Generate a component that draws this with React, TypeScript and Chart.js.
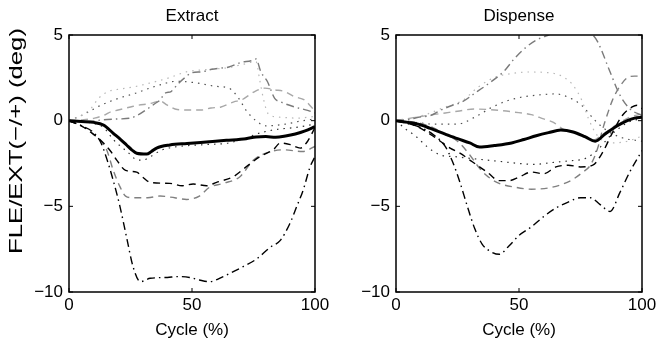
import React, { useEffect, useRef } from "react";
import { Chart, registerables } from "chart.js";

Chart.register(...registerables);

// ---------- text ----------
const panelTitles = ["Extract", "Dispense"];
const yAxisTitle = "FLE/EXT(\u2212/+) (deg)";
const xAxisTitle = "Cycle (%)";
const xTicks = [0, 50, 100];
const yTicks = [5, 0, -5, -10];

// ---------- Extract panel series: [cycle %, deg] ----------
const extractMean = [[0,0],[5,-0.05],[10,-0.1],[14,-0.25],[18,-0.74],[21,-1.1],[23.4,-1.42],[25.5,-1.7],[27.5,-1.9],[31.6,-1.95],[33.5,-1.8],[35.6,-1.6],[41,-1.42],[48,-1.33],[57,-1.23],[64,-1.15],[72,-1.05],[76,-0.95],[80,-0.93],[84,-0.97],[88,-0.9],[92,-0.78],[96,-0.6],[100,-0.35]];
const extractA = [[0,0],[5,-0.3],[10,-0.7],[13,-1.3],[15.3,-2.2],[18,-3.5],[20.7,-5.0],[23.4,-6.8],[26,-8.5],[29,-9.4],[33,-9.2],[40,-9.15],[44,-9.1],[49,-9.15],[53,-9.3],[57,-9.4],[62.7,-9.1],[67,-8.8],[71,-8.5],[76,-8.1],[81.7,-7.4],[85.8,-7.0],[89.8,-6.0],[92.6,-5.0],[95.2,-4.05],[98,-2.7],[100,-2.1]];
const extractB = [[0,0],[5,-0.3],[10,-0.8],[14,-1.3],[17,-1.8],[19.4,-2.3],[23,-2.9],[27.5,-3.0],[30,-3.3],[33,-3.6],[41,-3.66],[46,-3.8],[50.5,-3.7],[56,-3.8],[60,-3.6],[66.8,-3.27],[72,-2.7],[77.6,-2.1],[83,-1.7],[86,-1.3],[90,-1.4],[94,-1.6],[97,-1.2],[100,-0.4]];
const extractC = [[0,0],[5,-0.3],[10,-0.8],[13,-1.2],[15.3,-1.7],[18,-2.9],[20.7,-3.85],[23,-4.4],[26,-4.5],[32,-4.5],[37,-4.4],[43,-4.5],[47.8,-4.6],[53,-4.4],[57,-3.9],[62.7,-3.66],[69.5,-3.27],[75,-2.3],[80,-1.9],[87,-1.7],[95,-1.8],[100,-1.5]];
const extractD = [[0,0],[7,-0.05],[14,0.05],[20,0.1],[25,0.15],[28,0.33],[32,0.7],[35,1.0],[37,1.2],[39,1.6],[41.5,1.7],[44,2.1],[47,2.5],[50,2.8],[54,2.85],[58,3.0],[62,3.07],[65,3.13],[70,3.4],[74,3.5],[76,3.6],[78,2.85],[80.7,2.27],[83.6,1.3],[86,1.1],[91.7,0.8],[97,0.6],[100,0.45]];
const extractE = [[0,0],[6,0.05],[10.4,0.15],[14.5,0.33],[17,0.52],[20,0.62],[25,0.8],[28,0.9],[33,1.0],[37,1.15],[40,0.9],[44,0.65],[49.6,0.62],[53.7,0.62],[57.7,0.74],[61.8,0.8],[67,1.1],[70,1.2],[75.5,1.7],[79.6,1.9],[83.6,1.8],[87.7,1.7],[91.7,1.4],[95.8,1.2],[100,0.55]];
const extractF = [[0,0],[5,0.3],[9,0.72],[12,1.3],[15.9,1.7],[21,1.85],[26.7,1.98],[33,2.2],[40,2.47],[48,2.86],[53,2.95],[58,3.0],[65,3.1],[71,3.3],[76,3.45],[77.5,2.4],[79,1.3],[81,0.4],[86,0.2],[93,0.15],[100,0.25]];
const extractG = [[0,0],[5,0.3],[9,0.6],[13,0.9],[20,1.3],[27,1.6],[35,2.0],[44,2.3],[52,2.2],[60,2.0],[65,1.9],[69,1.3],[72,0.6],[76,0.0],[80,-0.3],[88,-0.2],[95,0.0],[100,0.1]];
const extractH = [[0,0],[8,-0.1],[14,-0.4],[18,-1.1],[21,-1.5],[23.6,-1.8],[28,-2.3],[30,-2.3],[33,-2.1],[38,-1.7],[45,-1.5],[55,-1.4],[65,-1.3],[72,-1.0],[78,-0.7],[85,-0.5],[92,-0.4],[100,-0.2]];

// ---------- Dispense panel series: [cycle %, deg] ----------
const dispenseMean = [[0,0],[5,-0.1],[9,-0.2],[14,-0.45],[20,-0.78],[25,-1.05],[30,-1.3],[34,-1.54],[40,-1.45],[47,-1.3],[52,-1.1],[57,-0.88],[62,-0.7],[67,-0.55],[72,-0.66],[77,-0.95],[81,-1.2],[85,-0.78],[90,-0.3],[94,0.0],[97,0.15],[100,0.2]];
const dispenseA = [[0,0],[10,-0.4],[15,-0.8],[20,-1.5],[23,-2.4],[26,-3.6],[29,-5.0],[32,-6.3],[35,-7.2],[38,-7.6],[42,-7.8],[46,-7.3],[50,-6.7],[55,-6.2],[60,-5.6],[65,-5.1],[70,-4.75],[75,-4.5],[79,-4.5],[83,-4.9],[87,-5.3],[91,-4.2],[95,-3.0],[100,-1.75]];
const dispenseB = [[0,0],[8,-0.3],[14,-0.8],[18,-1.2],[22,-1.6],[26,-1.9],[31,-2.4],[37,-3.0],[42,-3.5],[46,-3.5],[50,-3.3],[55,-3.0],[60,-3.1],[65,-2.7],[70,-2.6],[75,-2.7],[80,-2.6],[84,-1.85],[88,-0.7],[92,0.3],[96,0.8],[98,0.9],[100,0.7]];
const dispenseC = [[0,0],[8,-0.1],[15,-0.4],[20,-0.8],[25,-1.2],[30,-2.0],[33,-2.6],[36,-3.1],[41,-3.6],[49,-3.9],[55,-4.0],[63,-3.9],[71,-3.5],[76,-3.0],[79,-2.6],[82,-1.6],[84,-0.5],[86,0.4],[88,1.2],[91,2.0],[94,2.5],[97,2.6],[100,2.6]];
const dispenseD = [[0,0],[5,0.05],[9,0.2],[14,0.3],[18,0.6],[23,0.9],[27,1.1],[32,1.6],[37,2.1],[44,2.9],[48,3.6],[53,4.3],[57,4.7],[62,5.0],[68,5.3],[74,5.3],[78,5.2],[80,5.0],[82,4.6],[87,2.85],[91,1.5],[95,0.7],[100,0.3]];
const dispenseE = [[0,0],[8,0.2],[15,0.35],[20,0.45],[25,0.55],[32,0.68],[42,0.6],[48,0.5],[55,0.35],[60,0.1],[64,-0.1],[68,-0.5],[72,-0.65],[77,-0.9],[80,-1.15],[84,-0.8],[90,-0.2],[95,0.2],[100,0.4]];
const dispenseF = [[0,0],[5,0.1],[13,0.4],[20,0.8],[27,1.17],[33.5,1.97],[40.4,2.54],[47,2.75],[54,2.84],[60,2.82],[64.8,2.74],[68,2.55],[71.5,2.15],[75.6,1.17],[78,0.2],[82,-0.9],[88,-1.3],[94,-1.2],[100,-0.9]];
const dispenseG = [[0,0],[8,-0.1],[15,-0.2],[25,-0.2],[32,0.2],[39,0.78],[45,1.15],[51,1.37],[58,1.5],[64.8,1.56],[71.5,1.27],[75.6,0.88],[81,0.0],[86,-0.6],[92,-1.0],[100,-1.2]];
const dispenseH = [[0,0],[4,-0.5],[8,-0.9],[12.5,-1.5],[18,-2.0],[24,-2.1],[30,-2.2],[37,-2.3],[43.6,-2.4],[50,-2.5],[56,-2.55],[63,-2.45],[70,-2.35],[77,-2.2],[82,-1.7],[87,-0.9],[92,-0.3],[96,0.0],[100,0.1]];

// ---------- line styles (kept apart from the data) ----------
const styleMean = { color: "#000000", width: 3, dash: [] as number[] };
const styleA = { color: "#000000", width: 1.4, dash: [8, 4, 1.5, 4] };
const styleB = { color: "#000000", width: 1.4, dash: [7, 5] };
const styleC = { color: "#808080", width: 1.4, dash: [7, 5] };
const styleD = { color: "#7a7a7a", width: 1.4, dash: [8, 4, 1.5, 4] };
const styleE = { color: "#a8a8a8", width: 1.4, dash: [7, 5] };
const styleF = { color: "#b8b8b8", width: 1.2, dash: [1.5, 5] };
const styleG = { color: "#505050", width: 1.2, dash: [1.5, 5] };
const styleH = { color: "#303030", width: 1.2, dash: [1.5, 5] };

const FONT = '"Liberation Sans", Arial, Helvetica, sans-serif';
const FS = 17;

function makeDatasets(list: [number[][], any][]) {
  return list.map(([pts, st]) => ({
    data: pts.map(([x, y]) => ({ x, y })),
    borderColor: st.color,
    borderWidth: st.width,
    borderDash: st.dash,
    pointRadius: 0,
    fill: false,
    cubicInterpolationMode: "monotone" as const,
    clip: 0,
  }));
}

const framePlugin = {
  id: "frame",
  afterDatasetsDraw(chart: any, _args: any, opts: any) {
    const { ctx, chartArea: a, scales } = chart;
    ctx.save();
    ctx.strokeStyle = "#000";
    ctx.lineWidth = 1.5;
    ctx.strokeRect(a.left, a.top, a.right - a.left, a.bottom - a.top);
    ctx.lineWidth = 1;
    const L = 4;
    const seg = (x1: number, y1: number, x2: number, y2: number) => {
      ctx.beginPath();
      ctx.moveTo(x1, y1);
      ctx.lineTo(x2, y2);
      ctx.stroke();
    };
    xTicks.forEach((v) => {
      const px = scales.x.getPixelForValue(v);
      seg(px, a.bottom, px, a.bottom - L);
      seg(px, a.top, px, a.top + L);
    });
    yTicks.forEach((v) => {
      const py = scales.y.getPixelForValue(v);
      seg(a.left, py, a.left + L, py);
      seg(a.right, py, a.right - L, py);
    });
    ctx.fillStyle = "#000";
    ctx.font = `${FS}px ${FONT}`;
    ctx.textAlign = "center";
    ctx.textBaseline = "middle";
    ctx.fillText(opts.text, (a.left + a.right) / 2, 16);
    if (opts.yTitle) {
      // vertical axis label, slightly stretched along its length like the reference
      ctx.save();
      ctx.translate(17, 141);
      ctx.rotate(-Math.PI / 2);
      ctx.font = `19px ${FONT}`;
      const w = ctx.measureText(opts.yTitle).width;
      const sx = 226 / w;
      ctx.scale(sx, 1);
      ctx.fillText(opts.yTitle, 0, 0);
      ctx.restore();
    }
    ctx.restore();
  },
};

function Panel(props: {
  left: number;
  width: number;
  yw: number;
  right: number;
  title: string;
  yTitle: string | null;
  series: [number[][], any][];
}) {
  const ref = useRef<HTMLCanvasElement>(null);
  useEffect(() => {
    if (!ref.current) return;
    const chart = new Chart(ref.current, {
      type: "line",
      data: { datasets: makeDatasets(props.series) as any },
      options: {
        responsive: false,
        animation: false,
        devicePixelRatio: 1,
        layout: { padding: { top: 35, right: props.right, bottom: 0, left: 0 } },
        plugins: {
          legend: { display: false },
          tooltip: { enabled: false },
          title: { display: false },
          frame: { text: props.title, yTitle: props.yTitle },
        } as any,
        scales: {
          x: {
            type: "linear",
            min: 0,
            max: 100,
            grid: { display: false, drawTicks: false },
            border: { display: false },
            ticks: {
              stepSize: 50,
              color: "#000",
              padding: 3,
              font: { family: FONT, size: FS },
              maxRotation: 0,
            },
            title: {
              display: true,
              text: xAxisTitle,
              color: "#000",
              font: { family: FONT, size: FS },
              padding: { top: 0, bottom: 10 },
            },
            afterFit: (s: any) => {
              s.height = 59;
            },
          },
          y: {
            type: "linear",
            min: -10,
            max: 5,
            grid: { display: false, drawTicks: false },
            border: { display: false },
            ticks: {
              stepSize: 5,
              color: "#000",
              padding: 6,
              font: { family: FONT, size: FS },
              callback: (v: any) => (Number(v) < 0 ? "\u2212" + Math.abs(Number(v)) : String(v)),
            },
            title: { display: false },
            afterFit: (s: any) => {
              s.width = props.yw;
            },
          },
        },
      },
      plugins: [framePlugin as any],
    });
    return () => chart.destroy();
  }, []);
  return (
    <canvas
      ref={ref}
      width={props.width}
      height={351}
      style={{ position: "absolute", left: props.left, top: 0, width: props.width, height: 351, display: "block" }}
    />
  );
}

export default function App() {
  const extractSeries: [number[][], any][] = [
    [extractMean, styleMean],
    [extractA, styleA],
    [extractB, styleB],
    [extractC, styleC],
    [extractD, styleD],
    [extractE, styleE],
    [extractF, styleF],
    [extractG, styleG],
    [extractH, styleH],
  ];
  const dispenseSeries: [number[][], any][] = [
    [dispenseMean, styleMean],
    [dispenseA, styleA],
    [dispenseB, styleB],
    [dispenseC, styleC],
    [dispenseD, styleD],
    [dispenseE, styleE],
    [dispenseF, styleF],
    [dispenseG, styleG],
    [dispenseH, styleH],
  ];
  return (
    <div style={{ position: "absolute", left: 0, top: 0, width: 665, height: 351, background: "#fff", overflow: "hidden" }}>
      <Panel left={0} width={335} yw={69} right={20} title={panelTitles[0]} yTitle={yAxisTitle} series={extractSeries} />
      <Panel left={335} width={330} yw={61} right={23} title={panelTitles[1]} yTitle={null} series={dispenseSeries} />
    </div>
  );
}
